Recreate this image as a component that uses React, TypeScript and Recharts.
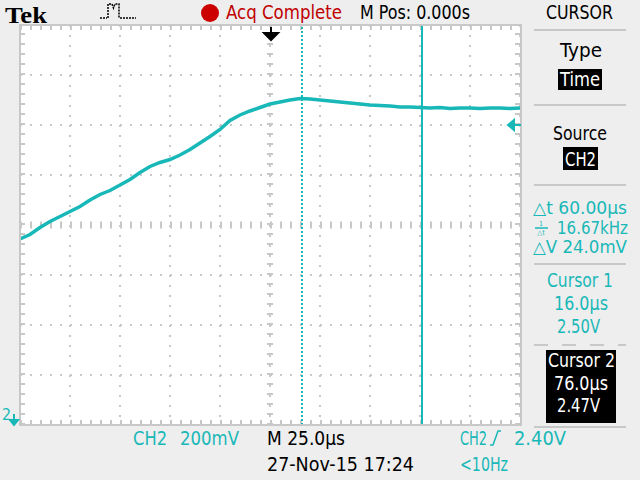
import { LineChart, Line, XAxis, YAxis, CartesianGrid, ReferenceLine } from 'recharts';

// CH2 trace, time in µs (M 25.0µs/div, M Pos 0), volts (200mV/div)
const timeUs = [
  -125, -120, -115, -110, -105, -100, -95, -90, -85, -80, -75, -70, -65, -60, -55, -50, -45,
  -40, -35, -30, -25, -20, -15, -10, -5, 0, 5, 10, 15, 20, 25, 30, 35, 40, 45, 50, 55, 60,
  65, 70, 75, 80, 85, 90, 95, 100, 105, 110, 115, 120, 125,
];
const ch2Volts = [
  1.944, 1.962, 1.99, 2.014, 2.034, 2.054, 2.074, 2.1, 2.122, 2.138, 2.16, 2.182, 2.21, 2.234,
  2.25, 2.262, 2.28, 2.302, 2.328, 2.354, 2.382, 2.418, 2.44, 2.456, 2.47, 2.484, 2.492, 2.5,
  2.506, 2.504, 2.5, 2.496, 2.492, 2.488, 2.484, 2.48, 2.478, 2.476, 2.472, 2.472, 2.47, 2.468,
  2.47, 2.466, 2.468, 2.468, 2.466, 2.468, 2.468, 2.466, 2.468,
];
const divTimes = [-125, -100, -75, -50, -25, 0, 25, 50, 75, 100, 125];
const divVolts = [1.2, 1.4, 1.6, 1.8, 2.0, 2.2, 2.4, 2.6, 2.8];
const cursorTimes = [16, 76];

const trace = timeUs.map((t, i) => ({ t, v: ch2Volts[i] }));

const TEAL = '#19b8b8';
const GRID = '#c8c8c8';
const FONT = "'Liberation Sans Narrow', 'DejaVu Sans Condensed', 'Liberation Sans', sans-serif";

function Txt({ x, y, w, children, fill = '#000', size = 19 }: { x: number; y: number; w: number; children: any; fill?: string; size?: number }) {
  return (
    <text x={x} y={y} textLength={w} lengthAdjust="spacingAndGlyphs" fill={fill} fontSize={size} fontFamily={FONT}>
      {children}
    </text>
  );
}

function Overlay() {
  return (
    <svg width={640} height={480} style={{ position: 'absolute', left: 0, top: 0, pointerEvents: 'none' }}>
      <rect x={20} y={25} width={501} height={400} fill="none" stroke={GRID} strokeWidth={2} />
      {/* header */}
      <text x={5} y={23} textLength={42} lengthAdjust="spacingAndGlyphs" fontFamily="'Liberation Serif', serif" fontWeight="bold" fontSize={24}>Tek</text>
      <path d="M100,18 L107,18 M108,18 L108,4 L112,4 L113.5,8 L115,4 L119,4 L119,18 M120,18 L136,18" stroke="#000" strokeWidth={1.5} fill="none" strokeDasharray="2 1" />
      <circle cx={210} cy={13} r={9} fill="#cc0000" />
      <Txt x={226} y={19} w={116} fill="#c00000">Acq Complete</Txt>
      <Txt x={360} y={19} w={110}>M Pos: 0.000s</Txt>
      <Txt x={546} y={19} w={67}>CURSOR</Txt>
      {/* markers */}
      <path d="M271,27 L271,33 M264,33 L278,33 L271,40 Z" stroke="#000" strokeWidth={2} fill="#000" />
      <path d="M508,125 L514,120 L514,130 Z M514,125 L521,125" stroke={TEAL} strokeWidth={2} fill={TEAL} />
      <Txt x={2} y={420} w={9} fill={TEAL} size={15}>2</Txt>
      <path d="M14,414 L14,423 M10,420 L18,420 L14,425 Z" stroke={TEAL} strokeWidth={2} fill={TEAL} />
      {/* side panel */}
      {[30, 105, 185, 264, 427].map((y) => (
        <line key={y} x1={534} x2={626} y1={y} y2={y} stroke={GRID} strokeWidth={2} />
      ))}
      <line x1={534} x2={626} y1={345} y2={345} stroke={GRID} strokeWidth={2} strokeDasharray="14 14" />
      <Txt x={560} y={57} w={42}>Type</Txt>
      <rect x={558} y={69} width={44} height={21} fill="#000" />
      <Txt x={560} y={86} w={40} fill="#fff">Time</Txt>
      <Txt x={553} y={140} w={54}>Source</Txt>
      <rect x={563} y={147} width={35} height={23} fill="#000" />
      <Txt x={565} y={166} w={31} fill="#fff">CH2</Txt>
      <Txt x={533} y={214} w={94} fill={TEAL} size={17}>△t 60.00µs</Txt>
      <text x={541} y={226} fontSize={7} fill={TEAL} fontFamily={FONT} textAnchor="middle">1</text>
      <line x1={535} x2={548} y1={228} y2={228} stroke={TEAL} strokeWidth={1.5} />
      <text x={541} y={235} fontSize={7} fill={TEAL} fontFamily={FONT} textAnchor="middle">△t</text>
      <Txt x={557} y={234} w={71} fill={TEAL} size={17}>16.67kHz</Txt>
      <Txt x={533} y={253} w={94} fill={TEAL} size={17}>△V 24.0mV</Txt>
      <Txt x={547} y={287} w={66} fill={TEAL}>Cursor 1</Txt>
      <Txt x={554} y={310} w={54} fill={TEAL}>16.0µs</Txt>
      <Txt x={557} y={333} w={43} fill={TEAL}>2.50V</Txt>
      <rect x={546} y={350} width={70} height={73} fill="#000" />
      <Txt x={548} y={367} w={67} fill="#fff">Cursor 2</Txt>
      <Txt x={554} y={390} w={54} fill="#fff">76.0µs</Txt>
      <Txt x={557} y={412} w={43} fill="#fff">2.47V</Txt>
      {/* footer */}
      <Txt x={133} y={445} w={34} fill={TEAL}>CH2</Txt>
      <Txt x={180} y={445} w={59} fill={TEAL}>200mV</Txt>
      <Txt x={267} y={445} w={78}>M 25.0µs</Txt>
      <Txt x={460} y={445} w={27} fill={TEAL}>CH2</Txt>
      <path d="M490,445 L493,445 L498,431 L501,431" stroke={TEAL} strokeWidth={1.5} fill="none" />
      <Txt x={514} y={445} w={52} fill={TEAL}>2.40V</Txt>
      <Txt x={267} y={471} w={147}>27-Nov-15 17:24</Txt>
      <Txt x={460} y={471} w={48} fill={TEAL}>&lt;10Hz</Txt>
    </svg>
  );
}

export default function App() {
  return (
    <div style={{ position: 'fixed', left: 0, top: 0, width: 640, height: 480, background: '#eeeeee' }}>
      <LineChart width={640} height={480} data={trace} margin={{ top: 25, right: 120, bottom: 55, left: 20 }}>
        <CartesianGrid fill="#ffffff" stroke={GRID} strokeWidth={2} strokeDasharray="2 8" />
        <XAxis type="number" dataKey="t" domain={[-125, 125]} ticks={divTimes} hide />
        <YAxis type="number" domain={[1.2, 2.8]} ticks={divVolts} hide />
        {/* minor division ticks on the centre axes and the graticule edges */}
        <ReferenceLine y={2.0} stroke={GRID} strokeWidth={7} strokeDasharray="2 8" />
        <ReferenceLine x={0} stroke={GRID} strokeWidth={6} strokeDasharray="2 8" />
        <ReferenceLine y={2.79} stroke={GRID} strokeWidth={5} strokeDasharray="2 8" />
        <ReferenceLine y={1.21} stroke={GRID} strokeWidth={5} strokeDasharray="2 8" />
        <ReferenceLine x={-123.75} stroke={GRID} strokeWidth={5} strokeDasharray="2 8" />
        <ReferenceLine x={123.75} stroke={GRID} strokeWidth={5} strokeDasharray="2 8" />
        <ReferenceLine x={cursorTimes[0]} stroke={TEAL} strokeWidth={2} strokeDasharray="2 2" />
        <ReferenceLine x={cursorTimes[1]} stroke={TEAL} strokeWidth={2} />
        <Line type="linear" dataKey="v" stroke={TEAL} strokeWidth={3.5} dot={false} isAnimationActive={false} />
      </LineChart>
      <Overlay />
    </div>
  );
}
